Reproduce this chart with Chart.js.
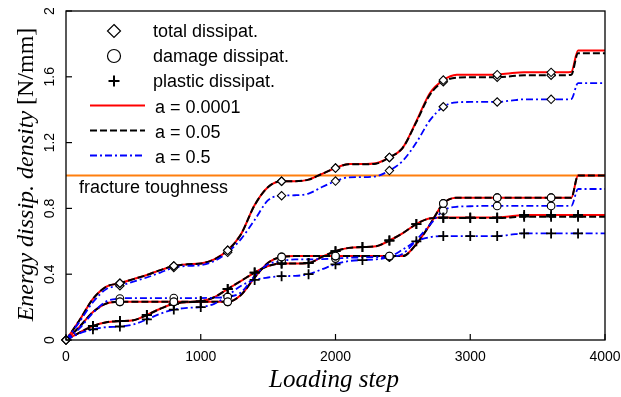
<!DOCTYPE html>
<html><head><meta charset="utf-8">
<script src="https://cdn.jsdelivr.net/npm/chart.js@4/dist/chart.umd.min.js"></script>
<style>html,body{margin:0;padding:0;background:#fff;overflow:hidden}#wrap{width:621px;height:397px}</style>
</head><body><div id="wrap"><canvas id="c" width="621" height="397"></canvas></div>
<script>
// ---- data ----
const steps = [0,100,200,300,400,500,600,700,800,900,1000,1100,1200,1300,1400,1500,1600,1700,1800,1900,2000,2100,2200,2300,2400,2500,2600,2700,2800,2900,3000,3100,3200,3300,3400,3500,3600,3700,3750,3800,3900,4000];

const totalA = [0,0.12,0.25,0.325,0.345,0.37,0.395,0.425,0.45,0.46,0.465,0.49,0.545,0.645,0.82,0.93,0.965,0.965,0.975,1.01,1.045,1.07,1.07,1.075,1.11,1.17,1.33,1.50,1.58,1.612,1.613,1.613,1.613,1.622,1.627,1.627,1.627,1.627,1.63,1.76,1.76,1.76];
const totalB = [0,0.12,0.25,0.325,0.345,0.37,0.395,0.425,0.45,0.46,0.465,0.49,0.545,0.645,0.82,0.93,0.965,0.965,0.975,1.01,1.045,1.068,1.068,1.072,1.11,1.17,1.325,1.49,1.57,1.595,1.597,1.597,1.597,1.603,1.61,1.61,1.61,1.61,1.613,1.743,1.743,1.743];
const totalC = [0,0.11,0.23,0.31,0.33,0.355,0.38,0.41,0.44,0.45,0.455,0.48,0.533,0.615,0.73,0.85,0.877,0.88,0.89,0.93,0.966,0.989,0.99,0.995,1.03,1.09,1.20,1.335,1.418,1.445,1.447,1.447,1.447,1.455,1.463,1.463,1.463,1.463,1.465,1.562,1.562,1.562];

const damageA = [0,0.08,0.17,0.222,0.232,0.232,0.232,0.232,0.232,0.232,0.232,0.232,0.232,0.275,0.38,0.47,0.505,0.51,0.51,0.51,0.51,0.51,0.51,0.51,0.51,0.51,0.583,0.70,0.83,0.865,0.865,0.865,0.865,0.865,0.865,0.865,0.865,0.865,0.865,1.0,1.0,1.0];
const damageB = [0,0.08,0.17,0.222,0.232,0.232,0.232,0.232,0.232,0.232,0.232,0.232,0.232,0.275,0.38,0.47,0.505,0.51,0.51,0.51,0.51,0.51,0.51,0.51,0.51,0.51,0.583,0.70,0.83,0.865,0.865,0.865,0.865,0.865,0.865,0.865,0.865,0.865,0.865,1.0,1.0,1.0];
const damageC = [0,0.07,0.165,0.235,0.252,0.255,0.255,0.255,0.255,0.255,0.255,0.257,0.262,0.29,0.39,0.46,0.48,0.49,0.49,0.492,0.495,0.5,0.502,0.504,0.506,0.525,0.607,0.70,0.786,0.81,0.813,0.815,0.815,0.815,0.815,0.815,0.815,0.815,0.815,0.918,0.918,0.918];

const plasticA = [0,0.045,0.085,0.108,0.115,0.12,0.152,0.19,0.22,0.23,0.235,0.26,0.31,0.36,0.41,0.45,0.465,0.465,0.468,0.505,0.54,0.56,0.565,0.57,0.605,0.65,0.705,0.74,0.745,0.745,0.745,0.745,0.745,0.752,0.76,0.76,0.76,0.76,0.76,0.76,0.76,0.76];
const plasticB = [0,0.045,0.085,0.108,0.115,0.12,0.152,0.19,0.22,0.23,0.235,0.26,0.31,0.36,0.41,0.45,0.465,0.465,0.468,0.505,0.54,0.56,0.565,0.57,0.605,0.65,0.705,0.738,0.742,0.742,0.742,0.742,0.742,0.745,0.75,0.75,0.75,0.75,0.75,0.75,0.75,0.75];
const plasticC = [0,0.04,0.065,0.078,0.082,0.095,0.125,0.16,0.185,0.195,0.2,0.22,0.27,0.33,0.365,0.38,0.388,0.39,0.40,0.43,0.46,0.48,0.486,0.49,0.505,0.55,0.60,0.625,0.632,0.632,0.632,0.632,0.632,0.64,0.648,0.648,0.648,0.648,0.648,0.648,0.648,0.648];

const fractureToughness = 1.0;
const markerStepsTotal = [0,400,800,1200,1600,2000,2400,2800,3200,3600];
const markerStepsDamage = [400,800,1200,1600,2000,2400,2800,3200,3600];
const markerStepsPlastic = [200,400,600,800,1000,1200,1400,1600,1800,2000,2200,2400,2600,2800,3000,3200,3400,3600,3800];

const seriesNames = ['a = 0.0001','a = 0.05','a = 0.5'];
const quantityNames = ['total dissipat.','damage dissipat.','plastic dissipat.'];
const toughnessLabel = 'fracture toughness';
const xTickValues = [0,1000,2000,3000,4000];
const xTickLabels = ['0','1000','2000','3000','4000'];
const yTickValues = [0,0.4,0.8,1.2,1.6,2];
const yTickLabels = ['0','0.4','0.8','1.2','1.6','2'];
const xTitle = 'Loading step';
const yTitleItalic = 'Energy dissip. density';
const yTitleUpright = '[N/mm]';

// ---- styles ----
const variantStyles = [
  {color:'#ff0000', dash:[], width:2, order:30},
  {color:'#000000', dash:[7,3], width:2, order:20},
  {color:'#0000ff', dash:[7,3,2,3], width:1.8, order:10}
];
const SANS = '"Liberation Sans", Arial, sans-serif';
const SERIF = '"Liberation Serif", "Times New Roman", serif';

const toXY = arr => steps.map((s,i) => ({x:s, y:arr[i]}));
const pick = (arr, which) => steps.map((s,i)=>({x:s,y:arr[i]})).filter(p => which.includes(p.x));

const groups = [
  {vals:[totalA,totalB,totalC], marks:markerStepsTotal, style:'rectRot', r:4.2, bw:1.1},
  {vals:[damageA,damageB,damageC], marks:markerStepsDamage, style:'circle', r:3.8, bw:1.1},
  {vals:[plasticA,plasticB,plasticC], marks:markerStepsPlastic, style:'cross', r:5, bw:1.8}
];

const datasets = [];
datasets.push({
  label: toughnessLabel,
  data: [{x:0,y:fractureToughness},{x:4000,y:fractureToughness}],
  borderColor:'#ff7f0e', borderWidth:2, pointRadius:0, order:40
});
groups.forEach(g => {
  g.vals.forEach((arr, vi) => {
    const st = variantStyles[vi];
    datasets.push({
      label: seriesNames[vi], data: toXY(arr),
      borderColor: st.color, borderWidth: st.width, borderDash: st.dash,
      pointRadius: 0, cubicInterpolationMode:'monotone', fill:false, order: st.order
    });
  });
});
groups.forEach(g => {
  g.vals.forEach((arr, vi) => {
    datasets.push({
      label: 'markers', data: pick(arr, g.marks), showLine:false,
      pointStyle: g.style, pointRadius: g.r, pointBorderWidth: g.bw,
      pointBackgroundColor:'#ffffff', pointBorderColor:'#000000',
      order: 1 + vi, clip: false
    });
  });
});

function drawMarker(ctx, style, x, y, r) {
  ctx.beginPath();
  if (style === 'rectRot') {
    ctx.moveTo(x, y - r); ctx.lineTo(x + r, y); ctx.lineTo(x, y + r); ctx.lineTo(x - r, y); ctx.closePath();
    ctx.fillStyle = '#fff'; ctx.fill(); ctx.lineWidth = 1.2; ctx.stroke();
  } else if (style === 'circle') {
    ctx.arc(x, y, r, 0, Math.PI * 2);
    ctx.fillStyle = '#fff'; ctx.fill(); ctx.lineWidth = 1.2; ctx.stroke();
  } else {
    ctx.moveTo(x - r, y); ctx.lineTo(x + r, y); ctx.moveTo(x, y - r); ctx.lineTo(x, y + r);
    ctx.lineWidth = 2; ctx.stroke();
  }
}

const deco = {
  id:'deco',
  afterDraw(chart) {
    const {ctx, chartArea:a, scales:{x, y}} = chart;
    ctx.save();
    ctx.strokeStyle = '#000'; ctx.fillStyle = '#000';
    ctx.lineWidth = 1.3;
    ctx.strokeRect(a.left, a.top, a.right - a.left, a.bottom - a.top);
    // ticks
    ctx.lineWidth = 1.2;
    ctx.font = '14px ' + SANS;
    ctx.textAlign = 'center'; ctx.textBaseline = 'middle';
    xTickValues.forEach((v,i) => {
      const px = x.getPixelForValue(v);
      ctx.beginPath(); ctx.moveTo(px, a.bottom); ctx.lineTo(px, a.bottom - 6); ctx.stroke();
      ctx.fillText(xTickLabels[i], px, a.bottom + 17);
    });
    yTickValues.forEach((v,i) => {
      const py = y.getPixelForValue(v);
      ctx.beginPath(); ctx.moveTo(a.left, py); ctx.lineTo(a.left + 6, py); ctx.stroke();
      ctx.save(); ctx.translate(a.left - 16, py); ctx.rotate(-Math.PI/2);
      ctx.fillText(yTickLabels[i], 0, 0); ctx.restore();
    });
    // x title
    ctx.font = 'italic 25px ' + SERIF;
    ctx.textBaseline = 'alphabetic'; ctx.textAlign = 'center';
    ctx.fillText(xTitle, 334, 387);
    // y title (mixed style)
    ctx.save();
    ctx.translate(33, 174.5); ctx.rotate(-Math.PI/2);
    ctx.textAlign = 'left';
    ctx.font = 'italic 24px ' + SERIF;
    const w1 = ctx.measureText(yTitleItalic + ' ').width;
    ctx.font = '24px ' + SERIF;
    const w2 = ctx.measureText(yTitleUpright).width;
    const start = -(w1 + w2) / 2;
    ctx.font = 'italic 24px ' + SERIF;
    ctx.fillText(yTitleItalic + ' ', start, 0);
    ctx.font = '24px ' + SERIF;
    ctx.fillText(yTitleUpright, start + w1, 0);
    ctx.restore();
    // toughness label
    ctx.font = '18px ' + SANS; ctx.textAlign = 'left'; ctx.textBaseline = 'alphabetic';
    ctx.fillText(toughnessLabel, 79, 192.5);
    // legend
    const mRows = [31, 56, 81], mBase = [36.7, 61.7, 87.2];
    groups.forEach((g, i) => {
      ctx.strokeStyle = '#000';
      drawMarker(ctx, g.style, 114, mRows[i], g.style === 'cross' ? 5.5 : 6.5);
      ctx.fillStyle = '#000';
      ctx.fillText(quantityNames[i], 153, mBase[i]);
    });
    const lRows = [105.5, 130.5, 155.5], lBase = [112.7, 137.7, 162.7];
    variantStyles.forEach((st, i) => {
      ctx.beginPath(); ctx.setLineDash(st.dash); ctx.strokeStyle = st.color; ctx.lineWidth = st.width;
      ctx.moveTo(90, lRows[i]); ctx.lineTo(145, lRows[i]); ctx.stroke();
      ctx.setLineDash([]);
      ctx.fillStyle = '#000';
      ctx.fillText(seriesNames[i], 155, lBase[i]);
    });
    ctx.restore();
  }
};

new Chart(document.getElementById('c'), {
  type:'line',
  data:{datasets},
  options:{
    responsive:false, animation:false, devicePixelRatio:1, events:[],
    layout:{padding:{top:11, right:16, left:0, bottom:0}},
    plugins:{legend:{display:false}, tooltip:{enabled:false}},
    scales:{
      x:{type:'linear', min:0, max:4000,
         grid:{display:false}, border:{display:false}, ticks:{display:false},
         afterFit(s){ s.height = 57; }},
      y:{type:'linear', min:0, max:2,
         grid:{display:false}, border:{display:false}, ticks:{display:false},
         afterFit(s){ s.width = 66; }}
    }
  },
  plugins:[deco]
});
</script>
</body></html>
